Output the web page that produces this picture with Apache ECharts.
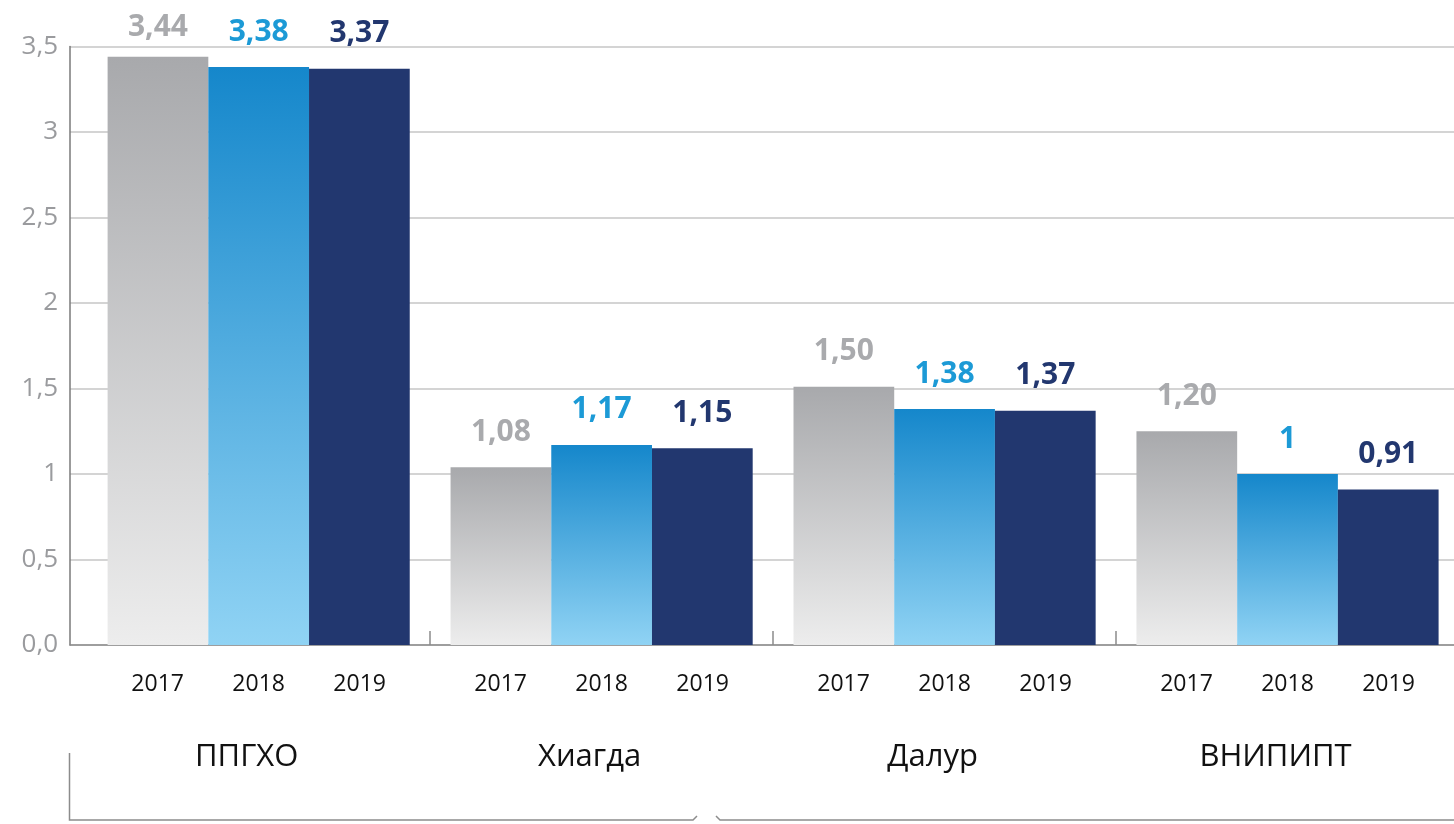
<!DOCTYPE html>
<html>
<head>
<meta charset="utf-8">
<style>
  html, body { margin: 0; padding: 0; background: #fff; }
  #chart { width: 1454px; height: 824px; }
</style>
<script src="https://cdn.jsdelivr.net/npm/echarts@6/dist/echarts.min.js"></script>
</head>
<body>
<div id="chart"></div>
<script>
// группы и годы
const companies = ['ППГХО', 'Хиагда', 'Далур', 'ВНИПИПТ']
const years = ['2017', '2018', '2019']

// высоты столбцов (как нарисованы)
const values2017 = [3.44, 1.04, 1.51, 1.25]
const values2018 = [3.38, 1.17, 1.38, 1.0]
const values2019 = [3.37, 1.15, 1.37, 0.91]

// подписи над столбцами (как напечатаны)
const labels2017 = ['3,44', '1,08', '1,50', '1,20']
const labels2018 = ['3,38', '1,17', '1,38', '1']
const labels2019 = ['3,37', '1,15', '1,37', '0,91']

// подписи оси Y
const yTickLabels = ['0,0', '0,5', '1', '1,5', '2', '2,5', '3', '3,5']

const FONT = '"Open Sans", "Noto Sans", sans-serif'
const gridTop = 46.5
const gridBottom = 179

const chart = echarts.init(document.getElementById('chart'))

const grad = (top, bottom) => new echarts.graphic.LinearGradient(0, 0, 0, 1, [
  { offset: 0, color: top },
  { offset: 1, color: bottom }
])

const makeSeries = (name, values, labels, fill, labelColor) => ({
  name,
  type: 'bar',
  xAxisIndex: 1,
  yAxisIndex: 1,
  barGap: '0%',
  barCategoryGap: '11.9%',
  data: values.map((v, i) => i === 0 && name === '2017'
    ? { value: v, label: { distance: 14 } }
    : v),
  itemStyle: { color: fill },
  label: {
    show: true,
    position: 'top',
    distance: 20,
    formatter: (p) => labels[p.dataIndex],
    color: labelColor,
    fontFamily: FONT,
    fontWeight: 'bold',
    fontSize: 30
  }
})

const option = {
  animation: false,
  grid: [
    { left: 70, right: 0, top: gridTop, bottom: gridBottom, outerBoundsMode: 'none' },
    { left: 87.2, right: -5, top: gridTop, bottom: gridBottom, outerBoundsMode: 'none' }
  ],
  xAxis: [
    {
      type: 'value',
      gridIndex: 0,
      min: 0,
      max: 1,
      axisLine: { show: true, lineStyle: { color: '#8c8c8c', width: 1.5 } },
      axisTick: { show: false },
      axisLabel: { show: false },
      splitLine: { show: false }
    },
    {
      type: 'category',
      gridIndex: 1,
      data: companies,
      axisLine: { show: false },
      axisTick: {
        show: true,
        inside: true,
        length: 14,
        interval: (index) => index > 0,
        lineStyle: { color: '#8c8c8c', width: 1.5 }
      },
      axisLabel: {
        interval: 0,
        margin: 24,
        formatter: (name) => years.map(y => '{y|' + y + '}').join('') + '\n{g|' + name + '}',
        rich: {
          y: {
            width: 101,
            align: 'center',
            fontFamily: FONT,
            fontSize: 23,
            color: '#111',
            lineHeight: 30
          },
          g: {
            fontFamily: FONT,
            fontSize: 31,
            color: '#111',
            lineHeight: 116,
            padding: [0, 24, 0, 0]
          }
        }
      }
    }
  ],
  yAxis: [
    {
      type: 'value',
      gridIndex: 0,
      min: 0,
      max: 3.5,
      interval: 0.5,
      axisLine: { show: true, lineStyle: { color: '#7a7a7a', width: 1.5 } },
      axisTick: { show: false },
      axisLabel: {
        margin: 12,
        formatter: (v, i) => yTickLabels[i],
        fontFamily: FONT,
        fontSize: 26,
        color: '#9a9b9e'
      },
      splitLine: { show: true, lineStyle: { color: '#c6c6c6', width: 1.5 } }
    },
    {
      type: 'value',
      gridIndex: 1,
      min: 0,
      max: 3.5,
      interval: 0.5,
      show: false,
      splitLine: { show: false }
    }
  ],
  series: [
    makeSeries('2017', values2017, labels2017, grad('#a8a9ac', '#ededed'), '#a9aaad'),
    makeSeries('2018', values2018, labels2018, grad('#1587cb', '#90d3f4'), '#1c9ad6'),
    makeSeries('2019', values2019, labels2019, '#22376f', '#22376f')
  ],
  // скобки под названиями групп
  graphic: [
    {
      type: 'polyline',
      shape: { points: [[69.5, 753], [69.5, 820], [693, 820], [697, 816]] },
      style: { stroke: '#8c8c8c', lineWidth: 1.5, fill: null }
    },
    {
      type: 'polyline',
      shape: { points: [[716, 816], [720, 820], [1454, 820]] },
      style: { stroke: '#8c8c8c', lineWidth: 1.5, fill: null }
    }
  ]
}

chart.setOption(option)
window.addEventListener('resize', () => chart.resize())
</script>
</body>
</html>
